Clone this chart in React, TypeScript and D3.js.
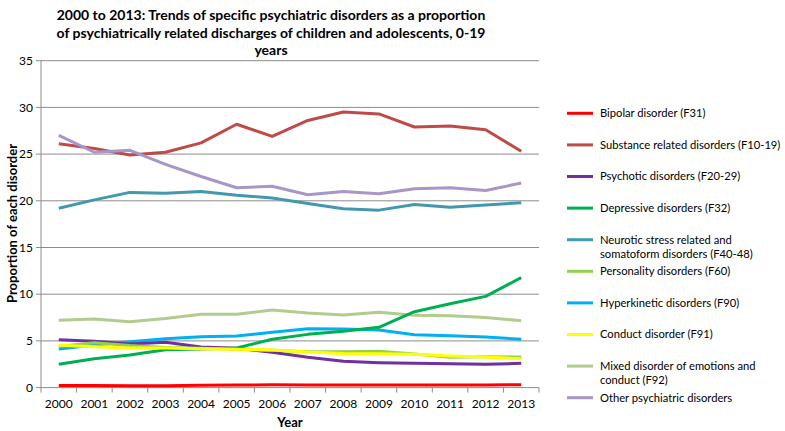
import React from "react";
import * as d3 from "d3";

const years = ["2000","2001","2002","2003","2004","2005","2006","2007","2008","2009","2010","2011","2012","2013"];

const seriesNames = [
  "Bipolar disorder (F31)",
  "Substance related disorders (F10-19)",
  "Psychotic disorders (F20-29)",
  "Depressive disorders (F32)",
  "Neurotic stress related and somatoform disorders (F40-48)",
  "Personality disorders (F60)",
  "Hyperkinetic disorders (F90)",
  "Conduct disorder (F91)",
  "Mixed disorder of emotions and conduct (F92)",
  "Other psychiatric disorders",
];

const legendLines = [
  ["Bipolar disorder (F31)"],
  ["Substance related disorders (F10-19)"],
  ["Psychotic disorders (F20-29)"],
  ["Depressive disorders (F32)"],
  ["Neurotic stress related and", "somatoform disorders (F40-48)"],
  ["Personality disorders (F60)"],
  ["Hyperkinetic disorders (F90)"],
  ["Conduct disorder (F91)"],
  ["Mixed disorder of emotions and", "conduct (F92)"],
  ["Other psychiatric disorders"],
];

const colors = ["#FF0000","#BE4B48","#7030A0","#00B050","#4198AF","#92D050","#00B0F0","#FFFF00","#B2CB8E","#A896C6"];

const bipolar = [0.22,0.22,0.2,0.2,0.25,0.28,0.3,0.29,0.29,0.28,0.28,0.28,0.29,0.3];
const substance = [26.1,25.6,24.9,25.2,26.2,28.2,26.9,28.6,29.5,29.3,27.9,28.0,27.6,25.3];
const psychotic = [5.13,4.96,4.67,4.85,4.35,4.2,3.78,3.24,2.81,2.67,2.6,2.56,2.49,2.6];
const depressive = [2.49,3.1,3.49,4.06,4.13,4.24,5.17,5.7,6.03,6.45,8.13,8.98,9.77,11.77];
const neurotic = [19.2,20.1,20.9,20.8,21.0,20.6,20.3,19.7,19.15,19.0,19.6,19.3,19.55,19.8];
const personality = [4.4,4.8,4.5,4.3,4.2,4.1,4.0,3.85,3.85,3.89,3.6,3.24,3.3,3.28];
const hyperkinetic = [4.13,4.56,4.9,5.24,5.45,5.52,5.92,6.3,6.27,6.17,5.66,5.56,5.42,5.17];
const conduct = [4.53,4.38,4.24,4.24,4.17,4.1,4.03,3.8,3.66,3.62,3.56,3.38,3.28,3.08];
const mixed = [7.2,7.35,7.06,7.4,7.85,7.85,8.3,7.99,7.77,8.06,7.74,7.7,7.5,7.16];
const other = [27.0,25.2,25.4,23.9,22.6,21.4,21.55,20.65,21.0,20.76,21.3,21.4,21.1,21.9];

const allSeries = [bipolar, substance, psychotic, depressive, neurotic, personality, hyperkinetic, conduct, mixed, other];
const drawOrder = [0, 1, 9, 4, 8, 6, 3, 2, 5, 7];

const yTicks = [0, 5, 10, 15, 20, 25, 30, 35];

const titleLines = [
  "2000 to 2013: Trends of specific psychiatric disorders as a proportion",
  "of psychiatrically related discharges of children and adolescents, 0-19",
  "years",
];

const FONT = "Lato, 'Open Sans', sans-serif";

export default function App() {
  const W = 785, H = 431;
  const left = 41, right = 539, top = 60.7, bottom = 387.6;
  const x = d3.scaleBand<string>().domain(years).range([left, right]).padding(0);
  const y = d3.scaleLinear().domain([0, 35]).range([bottom, top]);
  const cx = (yr: string) => (x(yr) as number) + x.bandwidth() / 2;
  const line = d3.line<number>().x((_, i) => cx(years[i])).y((v) => y(v));

  const legendX = 567, legendY0 = 113.3, legendStep = 31.6;

  return (
    <svg width={W} height={H} style={{ position: "absolute", left: 0, top: 0, background: "#fff" }} fontFamily={FONT}>
      <rect width={W} height={H} fill="#fff" />
      {titleLines.map((t, i) => (
        <text key={i} x={271} y={20 + i * 17.5} textAnchor="middle" fontSize={14} fontWeight="bold" fill="#000">{t}</text>
      ))}
      {yTicks.filter((t) => t > 0).map((t) => (
        <line key={t} x1={left} x2={right} y1={y(t)} y2={y(t)} stroke="#8c8c8c" strokeWidth={1} />
      ))}
      <line x1={left} x2={left} y1={top} y2={bottom} stroke="#8c8c8c" strokeWidth={1} />
      {yTicks.map((t) => (
        <g key={t}>
          <line x1={left - 5} x2={left} y1={y(t)} y2={y(t)} stroke="#8c8c8c" />
          <text x={left - 8} y={y(t)} dy="0.35em" textAnchor="end" fontSize={12} fill="#000">{t}</text>
        </g>
      ))}
      <line x1={left} x2={right} y1={bottom} y2={bottom} stroke="#8c8c8c" strokeWidth={1} />
      {years.map((yr) => (
        <line key={"t" + yr} x1={x(yr) as number} x2={x(yr) as number} y1={bottom} y2={bottom + 5} stroke="#8c8c8c" />
      ))}
      <line x1={right} x2={right} y1={bottom} y2={bottom + 5} stroke="#8c8c8c" />
      {years.map((yr) => (
        <text key={"l" + yr} x={cx(yr)} y={408} textAnchor="middle" fontSize={12} fill="#000">{yr}</text>
      ))}
      <text x={290} y={427} textAnchor="middle" fontSize={13} fontWeight="bold" fill="#000">Year</text>
      <text transform={`translate(12, 223.5) rotate(-90)`} textAnchor="middle" dy="0.35em" fontSize={13} fontWeight="bold" fill="#000">Proportion of each disorder</text>
      {drawOrder.map((si) => (
        <path key={si} d={line(allSeries[si]) || ""} fill="none" stroke={colors[si]} strokeWidth={3} strokeLinejoin="round" />
      ))}
      {seriesNames.map((name, i) => {
        const ly = legendY0 + i * legendStep;
        return (
          <g key={name}>
            <line x1={legendX} x2={legendX + 26} y1={ly} y2={ly} stroke={colors[i]} strokeWidth={3} />
            <text x={600} y={ly} fontSize={11.2} fill="#000">
              {legendLines[i].map((l, j) => (
                <tspan key={j} x={600} dy={j === 0 ? "0.35em" : 14.3}>{l}</tspan>
              ))}
            </text>
          </g>
        );
      })}
    </svg>
  );
}
